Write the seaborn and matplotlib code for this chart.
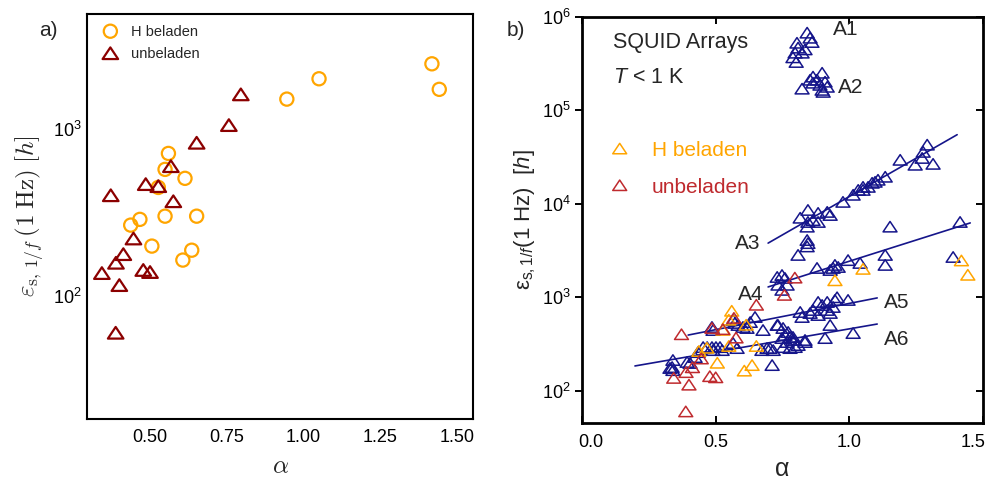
import numpy as np
import matplotlib
matplotlib.use("Agg")
import matplotlib.pyplot as plt
import matplotlib.transforms as mtransforms
import seaborn as sns
from matplotlib.path import Path
from matplotlib.markers import MarkerStyle
from matplotlib.ticker import NullLocator

sns.set_theme(style="white")
plt.rcParams["font.family"] = ["Liberation Sans", "DejaVu Sans"]
plt.rcParams["mathtext.fontset"] = "custom"
plt.rcParams["mathtext.rm"] = "Liberation Sans"
plt.rcParams["mathtext.it"] = "Liberation Sans:italic"
plt.rcParams["mathtext.bf"] = "Liberation Sans:bold"
plt.rcParams["axes.edgecolor"] = "black"

# ---- single-junction data (both panels) ----
h_alpha = [0.560, 0.549, 0.614, 0.527, 0.467, 0.437, 0.549, 0.652, 0.506, 0.636,
           0.607, 0.946, 1.051, 1.419, 1.443]
h_eps = [717, 575, 508, 448, 288, 266, 301, 301, 199, 188,
         164, 1520, 2014, 2477, 1740]
u_alpha = [0.796, 0.757, 0.652, 0.568, 0.486, 0.527, 0.372, 0.576, 0.446, 0.413,
           0.389, 0.343, 0.478, 0.500, 0.400, 0.388]
u_eps = [1623, 1061, 831, 601, 469, 456, 402, 370, 221, 178,
         158, 137, 143, 139, 116, 60]

# ---- SQUID arrays A1..A6 ----
a1_alpha = [0.842, 0.853, 0.860, 0.804, 0.808, 0.834, 0.797, 0.823, 0.789, 0.801]
a1_eps = [6.8e5, 6.0e5, 5.4e5, 5.3e5, 4.7e5, 4.5e5, 4.15e5, 4.15e5, 3.7e5, 3.3e5]
a2_alpha = [0.898, 0.864, 0.853, 0.879, 0.909, 0.864, 0.890, 0.917, 0.823, 0.898, 0.902]
a2_eps = [2.53e5, 2.3e5, 2.13e5, 2.13e5, 2.03e5, 1.98e5, 1.88e5, 1.79e5, 1.71e5, 1.66e5, 1.58e5]
a3_alpha = [1.291, 1.276, 1.272, 1.190, 1.246, 1.313, 1.134, 1.107, 1.096, 1.085,
            1.070, 1.051, 1.051, 1.033, 1.014, 0.976, 0.928, 0.917, 0.883, 0.845,
            0.864, 0.816, 0.845, 0.842, 0.883, 0.842, 0.845, 0.842, 0.808]
a3_eps = [4.3e4, 3.6e4, 3.1e4, 2.96e4, 2.62e4, 2.68e4, 1.95e4, 1.81e4, 1.72e4, 1.68e4,
          1.52e4, 1.52e4, 1.41e4, 1.41e4, 1.25e4, 1.05e4, 7.6e3, 8.2e3, 8.0e3, 8.6e3,
          6.7e3, 7.1e3, 6.4e3, 5.7e3, 6.4e3, 4.1e3, 3.8e3, 3.5e3, 2.84e3]
a4_alpha = [1.152, 1.414, 1.134, 1.134, 0.995, 1.040, 0.958, 0.939, 0.928, 0.879,
            0.946, 1.388, 0.748, 0.759, 0.730, 0.733, 0.767, 0.748]
a4_eps = [5.7e3, 6.4e3, 2.84e3, 2.22e3, 2.5e3, 2.33e3, 2.11e3, 2.06e3, 1.96e3, 2.06e3,
          2.22e3, 2.7e3, 1.73e3, 1.61e3, 1.65e3, 1.36e3, 1.36e3, 1.2e3]
a5_alpha = [0.995, 0.946, 0.917, 0.898, 0.939, 0.917, 0.864, 0.853, 0.928, 0.816,
            0.823, 0.883, 0.928, 0.647, 0.629, 0.730, 0.677, 0.486, 0.490, 0.565,
            0.584, 0.602, 0.572, 0.617, 0.954, 0.883]
a5_eps = [936, 936, 891, 827, 787, 731, 731, 679, 679, 696,
          615, 646, 505, 615, 543, 505, 446, 481, 446, 571,
          505, 481, 531, 469, 1000, 891]
a6_alpha = [1.014, 0.909, 0.834, 0.789, 0.752, 0.771, 0.759, 0.778, 0.748, 0.789,
            0.767, 0.797, 0.752, 0.778, 0.834, 0.733, 0.711, 0.673, 0.703, 0.715,
            0.808, 0.692, 0.580, 0.565, 0.524, 0.516, 0.501, 0.486, 0.490, 0.468,
            0.453, 0.434, 0.423, 0.404, 0.393, 0.340, 0.337, 0.340, 0.329]
a6_eps = [414, 366, 332, 376, 469, 425, 394, 376, 366, 349,
          332, 293, 293, 286, 349, 505, 188, 272, 286, 272,
          308, 286, 286, 324, 272, 293, 293, 293, 272, 293,
          293, 259, 229, 198, 203, 213, 179, 166, 175]

# power-law fits: alpha range and eps at both ends
fit_names = ["A3", "A4", "A5", "A6"]
fit_alpha0 = [0.696, 0.696, 0.397, 0.198]
fit_alpha1 = [1.403, 1.452, 1.104, 1.104]
fit_eps0 = [3.8e3, 1.29e3, 394, 184]
fit_eps1 = [5.5e4, 6.25e3, 984, 517]

ORANGE = "#FFA500"
DARKRED = "#8B0000"
RED = "#BF2A2E"
NAVY = "#15158A"

tri = MarkerStyle(Path([(-1, -0.75), (1, -0.75), (0, 0.75), (-1, -0.75)],
                       [Path.MOVETO, Path.LINETO, Path.LINETO, Path.CLOSEPOLY]))

fig = plt.figure(figsize=(9.9, 4.82), dpi=100)
ax_a = fig.add_axes([0.0879, 0.1307, 0.3899, 0.8403])
ax_b = fig.add_axes([0.5879, 0.1224, 0.4051, 0.8423])

# ---------------- panel a ----------------
ax_a.set_yscale("log")
sns.scatterplot(x=h_alpha, y=h_eps, ax=ax_a, marker="o", s=90, facecolor="none",
                edgecolor=ORANGE, linewidth=1.6, label="H beladen", zorder=3)
sns.scatterplot(x=u_alpha, y=u_eps, ax=ax_a, marker=tri, s=125, facecolor="none",
                edgecolor=DARKRED, linewidth=1.6, label="unbeladen", zorder=3)
ax_a.set_xlim(0.2946, 1.553)
ax_a.set_ylim(18.2, 4935)
ax_a.set_yticks([100, 1000], [r"$\mathregular{10^{2}}$", r"$\mathregular{10^{3}}$"])
ax_a.yaxis.set_minor_locator(NullLocator())
ax_a.set_xticks([0.5, 0.75, 1.0, 1.25, 1.5], ["0.50", "0.75", "1.00", "1.25", "1.50"])
ax_a.tick_params(direction="in", length=6, width=1.4, labelsize=13, colors="black")
ax_a.tick_params(axis="y", pad=4)
ax_a.tick_params(axis="x", pad=7)
for sp in ax_a.spines.values():
    sp.set_linewidth(1.5)
ax_a.set_ylabel(r"$\varepsilon_{\mathrm{s},\,1/f}\,(1\;\mathrm{Hz})\;[h]$",
                fontsize=18, math_fontfamily="cm", labelpad=4)
ax_a.set_xlabel(r"$\alpha$", fontsize=18, math_fontfamily="cm", labelpad=6)
leg_a = ax_a.legend(loc="upper left", bbox_to_anchor=(0.034, 0.972), frameon=False,
                    fontsize=10.5, handlelength=1.4, handletextpad=0.7,
                    labelspacing=0.55, borderpad=0, borderaxespad=0,
                    scatteryoffsets=[0.5])
fig.text(0.040, 1 - 30 / 482, "a)", fontsize=15, va="center", ha="left")

# ---------------- panel b ----------------
ax_b.set_yscale("log")
for xs, ys in [(a1_alpha, a1_eps), (a2_alpha, a2_eps), (a3_alpha, a3_eps),
               (a4_alpha, a4_eps), (a5_alpha, a5_eps), (a6_alpha, a6_eps)]:
    sns.scatterplot(x=xs, y=ys, ax=ax_b, marker=tri, s=100, facecolor="none",
                    edgecolor=NAVY, linewidth=1.1, zorder=3)
for x0, x1, y0, y1 in zip(fit_alpha0, fit_alpha1, fit_eps0, fit_eps1):
    sns.lineplot(x=[x0, x1], y=[y0, y1], ax=ax_b, color=NAVY, linewidth=1.2,
                 estimator=None, zorder=2)
sns.scatterplot(x=h_alpha, y=h_eps, ax=ax_b, marker=tri, s=100, facecolor="none",
                edgecolor=ORANGE, linewidth=1.1, label="H beladen", zorder=4)
sns.scatterplot(x=u_alpha, y=u_eps, ax=ax_b, marker=tri, s=100, facecolor="none",
                edgecolor=RED, linewidth=1.1, label="unbeladen", zorder=4)

ax_b.set_xlim(0, 1.5)
ax_b.set_ylim(45.1, 1.0e6)
ax_b.set_yticks([1e2, 1e3, 1e4, 1e5, 1e6],
                [r"$\mathregular{10^{%d}}$" % k for k in range(2, 7)])
ax_b.yaxis.set_minor_locator(NullLocator())
ax_b.set_xticks([0.0, 0.5, 1.0, 1.5], ["0.0", "0.5", "1.0", "1.5"])
ax_b.tick_params(axis="x", direction="in", length=5, width=1.4, labelsize=13,
                 top=True, bottom=True, pad=8, colors="black")
ax_b.tick_params(axis="y", direction="out", length=5, width=1.4, labelsize=13,
                 left=True, pad=3, colors="black")
ax_b.tick_params(axis="y", which="major", right=True)
for sp in ax_b.spines.values():
    sp.set_linewidth(2.0)
# inward ticks on the right-hand axis
for t in ax_b.yaxis.get_major_ticks():
    t.tick2line.set_marker(matplotlib.lines.TICKLEFT)

# keep the end labels of the alpha axis inside the frame
xlabels_b = ax_b.get_xticklabels()
for lab, dx in [(xlabels_b[0], 6), (xlabels_b[-1], -7)]:
    lab.set_transform(lab.get_transform() +
                      mtransforms.ScaledTranslation(dx / 72, 0, fig.dpi_scale_trans))

ax_b.set_ylabel("ε$_{\\mathrm{s,1/}\\mathit{f}}$(1 Hz)  [$\\mathit{h}$]",
                fontsize=16, labelpad=3)
ax_b.set_xlabel("α", fontsize=18, labelpad=4)

ax_b.text(0.077, 0.936, "SQUID Arrays", transform=ax_b.transAxes, fontsize=15.5,
          va="center", ha="left")
ax_b.text(0.077, 0.850, "$\\mathit{T}$ < 1 K", transform=ax_b.transAxes, fontsize=15.5,
          va="center", ha="left")

label_alpha = [0.939, 0.958, 0.666, 0.677, 1.130, 1.130]
label_eps = [7.3e5, 1.75e5, 3.8e3, 1.06e3, 890, 349]
label_text = ["A1", "A2", "A3", "A4", "A5", "A6"]
label_ha = ["left", "left", "right", "right", "left", "left"]
for xa, ye, s, ha in zip(label_alpha, label_eps, label_text, label_ha):
    ax_b.text(xa, ye, s, fontsize=15, ha=ha, va="center")

leg_b = ax_b.legend(loc="upper left", bbox_to_anchor=(0.042, 0.695), frameon=False,
                    fontsize=15, handlelength=2.0, handletextpad=0.55,
                    labelspacing=0.85, borderpad=0, borderaxespad=0,
                    scatteryoffsets=[0.5])
for txt, col in zip(leg_b.get_texts(), [ORANGE, RED]):
    txt.set_color(col)
fig.text(0.512, 1 - 31 / 482, "b)", fontsize=15, va="center", ha="left")

fig.savefig("out.png", dpi=100)
